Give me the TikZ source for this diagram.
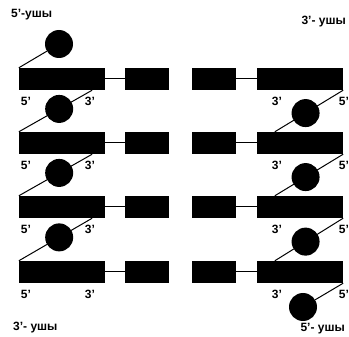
\documentclass[tikz,border=0pt]{standalone}
\usepackage{fontspec}
\setmainfont{Liberation Sans}
\usetikzlibrary{calc}
\tikzset{
  long bar/.style={fill, minimum width=86pt, minimum height=22pt, inner sep=0pt},
  short bar/.style={fill, minimum width=44pt, minimum height=22pt, inner sep=0pt},
  end ball/.style={circle, fill, minimum size=28pt, inner sep=0pt},
  end label/.style={font=\fontsize{12}{14}\selectfont\bfseries, inner sep=0pt},
  strand/.style={line width=1pt},
}

\begin{document}
\begin{tikzpicture}[x=1pt, y=-1pt]
  \useasboundingbox (0,0) rectangle (349,337);
  % four rows of duplexes
  \foreach \r/\y in {1/79, 2/143, 3/207, 4/272}{
    \node[long bar]  (L\r) at ( 62,\y) {};
    \node[short bar] (l\r) at (147,\y) {};
    \node[short bar] (r\r) at (214,\y) {};
    \node[long bar]  (R\r) at (300,\y) {};
    \draw[strand] (L\r) -- (l\r);
    \draw[strand] (r\r) -- (R\r);
    \node[end label] at ( 26,\y+22) {5'};
    \node[end label] at ( 90,\y+22) {3'};
    \node[end label] at (277,\y+22) {3'};
    \node[end label] at (344,\y+22) {5'};
  }
  % linkers carrying the balls
  \foreach \a/\b in {1/2, 2/3, 3/4}{
    \draw[strand] ($(L\a.south east)+(-13,0)$) -- node[end ball, pos=0.45] {} (L\b.north west);
    \draw[strand] (R\a.south east) -- node[end ball, pos=0.55] {} ($(R\b.north west)+(18,0)$);
  }
  \node[end ball] (top ball)    at ( 59, 44) {};
  \node[end ball] (bottom ball) at (303,307) {};
  \draw[strand] (L1.north west) -- (top ball);
  \draw[strand] (R4.south east) -- (bottom ball);
  % end names
  \node[end label, anchor=west] (tl) at ( 11, 15) {5'-ушы};
  \node[end label, anchor=east] (tr) at (346, 22) {3'- ушы};
  \node[end label, anchor=west] (bl) at ( 13,328) {3'- ушы};
  \node[end label, anchor=east] (br) at (345,329) {5'- ушы};
\end{tikzpicture}
\end{document}
